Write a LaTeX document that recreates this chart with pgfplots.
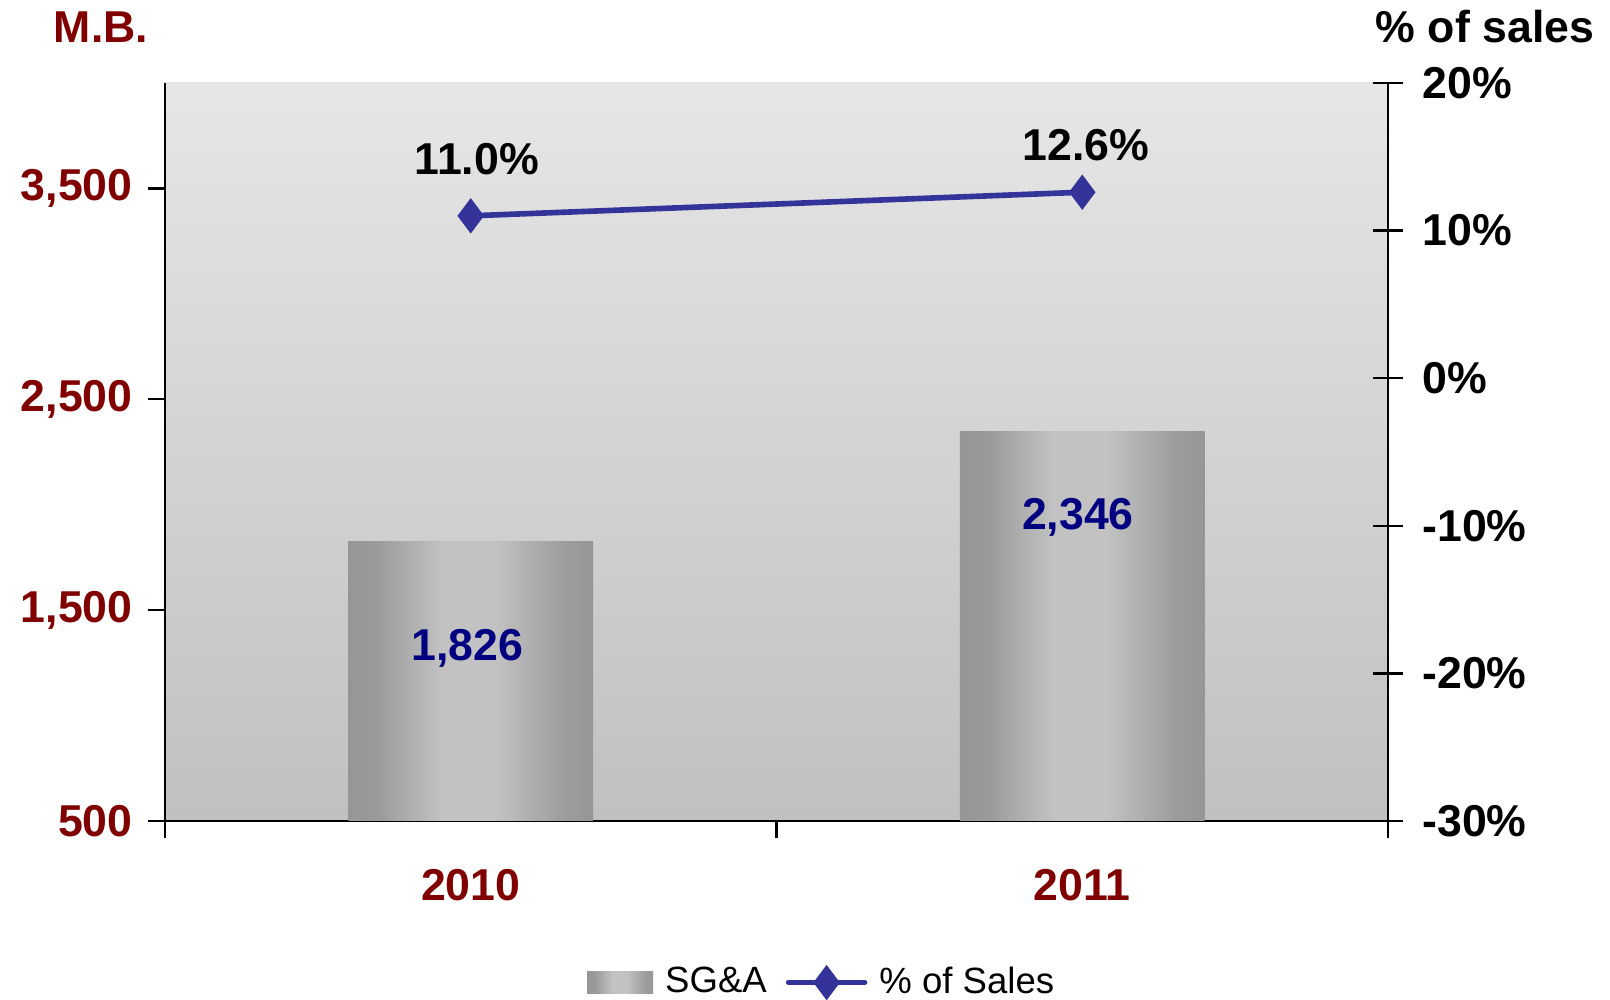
\documentclass[border=0pt]{standalone}
\usepackage{fontspec}
\setmainfont{Liberation Sans}
\usepackage{pgfplots}
\pgfplotsset{compat=1.18}
\definecolor{mbred}{HTML}{800000}
\definecolor{lblue}{HTML}{000080}
\definecolor{linecol}{HTML}{333399}
\definecolor{bgtop}{HTML}{E6E6E6}
\definecolor{bgbot}{HTML}{C0C0C0}
\definecolor{bardark}{HTML}{969696}
\definecolor{barlight}{HTML}{C2C2C2}
% bar fill: dark edges, light centre (stops between 25bp and 75bp map onto the bar)
\pgfdeclarehorizontalshading{barshade}{100bp}{color(0bp)=(bardark); color(25bp)=(bardark); color(31bp)=(bardark!90!barlight); color(44bp)=(barlight); color(55bp)=(barlight); color(69bp)=(bardark!85!barlight); color(75bp)=(bardark); color(100bp)=(bardark)}
\newcommand\lbl{\fontsize{12.7}{15}\selectfont\bfseries}

\begin{document}
\begin{tikzpicture}
\pgfplotsset{every axis/.append style={scale only axis,width=12.23cm,height=7.38cm,xmin=0,xmax=2}}
\begin{axis}[
name=main,
axis y line*=left,axis x line*=bottom,
axis line style={-,line width=0.7pt},
tick style={line width=0.7pt,black},
tick align=outside,major tick length=0.17cm,
ymin=500,ymax=4000,
ytick={500,1500,2500,3500},yticklabels={500,{1,500},{2,500},{3,500}},
yticklabel style={font=\lbl,text=mbred,xshift=-0.03cm},
xtick={0,1,2},xticklabels={,,},
extra x ticks={0.5,1.5},extra x tick labels={2010,2011},
extra x tick style={major tick length=0pt,tick label style={font=\lbl,text=mbred,yshift=-0.36cm}},
axis background/.style={shade,top color=bgtop,bottom color=bgbot},
]
% one plot per bar so each bar gets its own shading
\addplot[ybar,bar width=0.4,draw=none,shade,shading=barshade] coordinates {(0.5,1826)};
\addplot[ybar,bar width=0.4,draw=none,shade,shading=barshade] coordinates {(1.5,2346)};
\addplot[draw=none,mark=none,nodes near coords,point meta=explicit symbolic,
every node near coord/.style={anchor=center,text=lblue,font=\lbl}]
coordinates {(0.494,1317) [{1,826}] (1.493,1939) [{2,346}]};
\end{axis}
\begin{axis}[
axis y line*=right,axis x line=none,
axis line style={-,line width=0.7pt},
tick style={line width=0.7pt,black},
tick align=center,major tick length=0.3cm,
ymin=-30,ymax=20,
ytick={-30,-20,-10,0,10,20},yticklabels={-30\%,-20\%,-10\%,0\%,10\%,20\%},
yticklabel style={font=\lbl,text=black,xshift=0.07cm},
legend style={at={(0.539,-0.219)},anchor=center,draw=none,fill=none,
font=\fontsize{10.4}{12}\selectfont,legend columns=2,
/tikz/every odd column/.append style={column sep=0.05cm},
/tikz/every even column/.append style={column sep=0.12cm}},
]
\addlegendimage{legend image code/.code={\shade[shading=barshade,draw=none] (0cm,-0.11cm) rectangle (0.66cm,0.11cm);}}
\addlegendentry{SG\&A}
\addplot[linecol,line width=1.6pt,mark=diamond*,mark size=0.13cm,
legend image code/.code={\draw[linecol,line width=1.6pt,line cap=round] (0cm,0cm)--(0.76cm,0cm);
\fill[linecol] (0.38cm,0.13cm)--(0.4775cm,0cm)--(0.38cm,-0.13cm)--(0.2825cm,0cm)--cycle;}]
coordinates {(0.5,11.0) (1.5,12.6)};
\addlegendentry{\% of Sales}
\addplot[forget plot,draw=none,mark=none,nodes near coords,point meta=explicit symbolic,
every node near coord/.style={anchor=center,text=black,font=\lbl}]
coordinates {(0.51,14.85) [11.0\%] (1.506,15.8) [12.6\%]};
\end{axis}
\node[font=\lbl,text=mbred,anchor=base] at ([shift={(-0.64,7.78)}]main.south west) {M.B.};
\node[font=\lbl,text=black,anchor=base] at ([shift={(13.20,7.78)}]main.south west) {\% of sales};
\pgfresetboundingbox
\path ([shift={(-1.65,-1.79)}]main.south west) rectangle ++(16.1,10);
\end{tikzpicture}
\end{document}
